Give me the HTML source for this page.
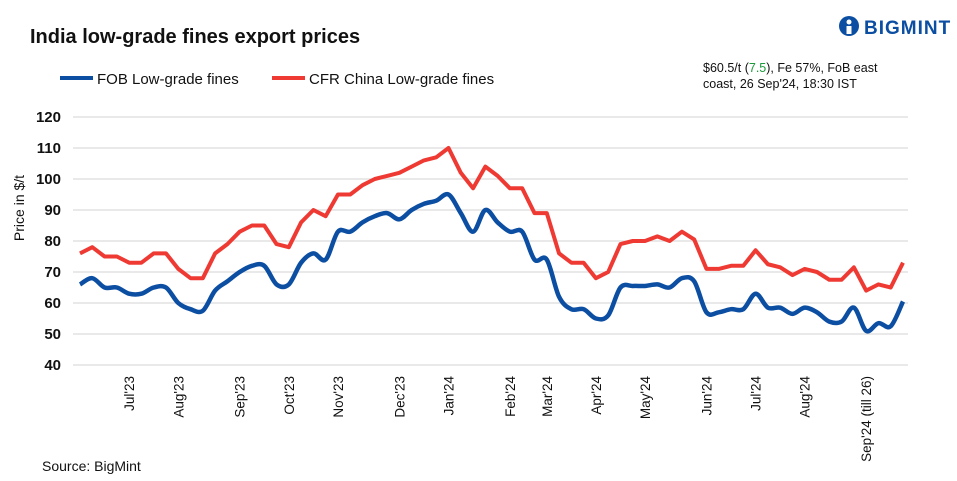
<!DOCTYPE html>
<html><head><meta charset="utf-8"><style>
body{margin:0;background:#fff;font-family:"Liberation Sans",sans-serif;}
#wrap{position:relative;width:957px;height:481px;overflow:hidden;}
</style></head><body>
<div id="wrap">
<svg id="svg" width="957" height="481" xmlns="http://www.w3.org/2000/svg">
<text x="30" y="43" font-size="20" font-weight="bold" fill="#111">India low-grade fines export prices</text>
<g>
<line x1="60" y1="78" x2="93" y2="78" stroke="#0b4ea2" stroke-width="4"/>
<text x="97" y="84" font-size="15" fill="#111">FOB Low-grade fines</text>
<line x1="272" y1="78" x2="305" y2="78" stroke="#ee3a33" stroke-width="4"/>
<text x="309" y="84" font-size="15" fill="#111">CFR China Low-grade fines</text>
</g>
<g>
<circle cx="849" cy="26" r="10" fill="#0b4ea2"/>
<circle cx="849" cy="22" r="2.5" fill="#fff"/>
<rect x="846.5" y="26" width="5" height="8" fill="#fff"/>
<text x="864" y="34" font-size="19" font-weight="bold" fill="#0b4ea2" letter-spacing="1">BIGMINT</text>
</g>
<text x="703" y="72" font-size="12.5" fill="#111">$60.5/t (<tspan fill="#1a9a3a">7.5</tspan>), Fe 57%, FoB east</text>
<text x="703" y="88" font-size="12.5" fill="#111">coast, 26 Sep'24, 18:30 IST</text>
<text transform="translate(24,208) rotate(-90)" text-anchor="middle" font-size="14" fill="#111">Price in $/t</text>
<text x="42" y="471" font-size="14" fill="#111">Source: BigMint</text>
<g id="grid"></g><g id="xl"></g><g id="series"></g>
</svg>
</div>
<script>
const yTicks=[40,50,60,70,80,90,100,110,120];
const fob=[66,68,65,65,63,63,65,65,60,58,57.5,64,67,70,72,72,66,66,73,76,74,83,83,86,88,89,87,90,92,93,95,89,83,90,86,83,83,74,74,62,58,58,55,56,65,65.5,65.5,66,65,68,67,57,57,58,58,63,58.5,58.5,56.5,58.5,57,54,54,58.5,51,53.5,52.5,60.5];
const cfr=[76,78,75,75,73,73,76,76,71,68,68,76,79,83,85,85,79,78,86,90,88,95,95,98,100,101,102,104,106,107,110,102,97,104,101,97,97,89,89,76,73,73,68,70,79,80,80,81.5,80,83,80.5,71,71,72,72,77,72.5,71.5,69,71,70,67.5,67.5,71.5,64,66,65,73];
const monthLabels=["Jul'23","Aug'23","Sep'23","Oct'23","Nov'23","Dec'23","Jan'24","Feb'24","Mar'24","Apr'24","May'24","Jun'24","Jul'24","Aug'24","Sep'24 (till 26)"];
const monthIdx=[4,8,13,17,21,26,30,35,38,42,46,51,55,59,64];
const NS="http://www.w3.org/2000/svg";
const X0=80,X1=903,Y0=365,Y1=117;
const xs=i=>X0+(X1-X0)*i/(fob.length-1);
const ys=v=>Y0-(v-40)*(Y0-Y1)/80;
const grid=document.getElementById('grid');
yTicks.forEach(t=>{
 const l=document.createElementNS(NS,'line');
 l.setAttribute('x1',73);l.setAttribute('x2',908);l.setAttribute('y1',ys(t));l.setAttribute('y2',ys(t));
 l.setAttribute('stroke','#dcdcdc');l.setAttribute('stroke-width','1.3');
 
 
 grid.appendChild(l);
 const tx=document.createElementNS(NS,'text');
 tx.setAttribute('x',61);tx.setAttribute('y',ys(t)+5);tx.setAttribute('text-anchor','end');
 tx.setAttribute('font-size','15');tx.setAttribute('font-weight','bold');tx.setAttribute('fill','#111');tx.textContent=t;
 
 
 grid.appendChild(tx);
});
const xl=document.getElementById('xl');
monthLabels.forEach((m,k)=>{
 const x=xs(monthIdx[k])+5;
 const tx=document.createElementNS(NS,'text');
 tx.setAttribute('transform','translate('+x+',376) rotate(-90)');
 tx.setAttribute('text-anchor','end');tx.setAttribute('font-size','13.5');tx.setAttribute('fill','#111');
 tx.textContent=m;
 
 
 xl.appendChild(tx);
});
function smooth(arr){
 const p=arr.map((v,i)=>[xs(i),ys(v)]);
 let d='M'+p[0][0]+','+p[0][1];
 for(let i=0;i<p.length-1;i++){
  const a=p[i-1]||p[i],b=p[i],c=p[i+1],e=p[i+2]||c;
  d+=' C'+(b[0]+(c[0]-a[0])/6)+','+(b[1]+(c[1]-a[1])/6)+' '+(c[0]-(e[0]-b[0])/6)+','+(c[1]-(e[1]-b[1])/6)+' '+c[0]+','+c[1];
 }
 return d;
}
const ser=document.getElementById('series');
const r=document.createElementNS(NS,'polyline');
r.setAttribute('points',cfr.map((v,i)=>xs(i)+','+ys(v)).join(' '));
r.setAttribute('fill','none');r.setAttribute('stroke','#ee3a33');r.setAttribute('stroke-width','4');r.setAttribute('stroke-linejoin','round');


ser.appendChild(r);
const b=document.createElementNS(NS,'path');
b.setAttribute('d',smooth(fob));
b.setAttribute('fill','none');b.setAttribute('stroke','#0b4ea2');b.setAttribute('stroke-width','4.5');b.setAttribute('stroke-linejoin','round');


ser.appendChild(b);
</script>
</body></html>
